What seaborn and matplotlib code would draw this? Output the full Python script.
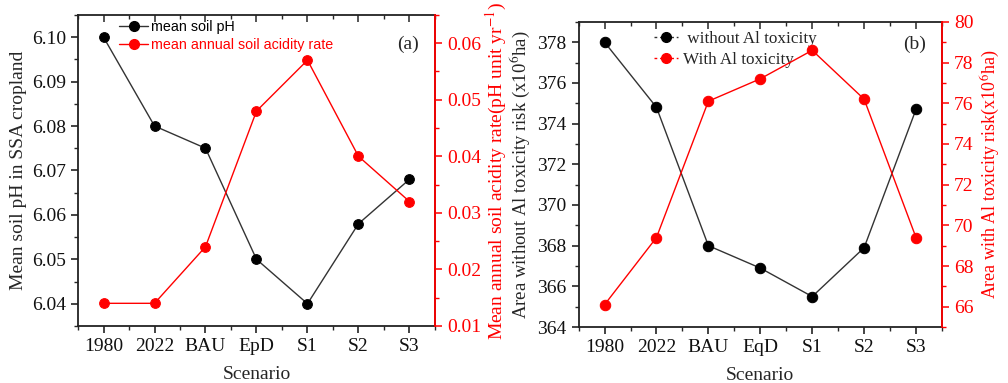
import numpy as np
import pandas as pd
import matplotlib
matplotlib.use("Agg")
import matplotlib.pyplot as plt
import seaborn as sns
from matplotlib.ticker import MultipleLocator, AutoMinorLocator
from matplotlib.lines import Line2D

sns.set_theme(style="white")
plt.rcParams['font.family'] = ['Liberation Serif', 'DejaVu Serif']
plt.rcParams['mathtext.fontset'] = 'stix'

scen_a = ["1980", "2022", "BAU", "EpD", "S1", "S2", "S3"]
soil_ph = [6.100, 6.080, 6.075, 6.050, 6.040, 6.058, 6.068]
acid_rate = [0.014, 0.014, 0.024, 0.048, 0.057, 0.040, 0.032]

scen_b = ["1980", "2022", "BAU", "EqD", "S1", "S2", "S3"]
area_without = [378.0, 374.8, 368.0, 366.9, 365.5, 367.9, 374.7]
area_with = [66.1, 69.4, 76.1, 77.2, 78.6, 76.2, 69.4]

RED = "#ff0000"
FS = 14

fig = plt.figure(figsize=(10.08, 3.83), dpi=100)
axa = fig.add_axes([0.0774, 0.149, 0.3541, 0.812])
axb = fig.add_axes([0.574, 0.146, 0.3605, 0.797])


def style_axes(ax, ax2):
    for s in ax.spines.values():
        s.set_color("#222222")
        s.set_linewidth(1.3)
    ax2.spines['right'].set_color(RED)
    ax2.spines['right'].set_linewidth(1.3)
    for s in ['left', 'top', 'bottom']:
        ax2.spines[s].set_visible(False)
    ax.tick_params(axis='both', which='major', direction='out', length=5, width=1.1,
                   labelsize=FS, colors='#111111', bottom=True, left=True, top=False)
    ax.tick_params(axis='y', which='minor', direction='out', length=3, width=1.0, left=True)
    ax.tick_params(axis='x', which='minor', direction='out', length=3, width=1.0, bottom=True)
    ax2.tick_params(axis='y', which='major', direction='out', length=5, width=1.1,
                    labelsize=FS, colors=RED, right=True)
    ax2.tick_params(axis='y', which='minor', direction='out', length=3, width=1.0,
                    colors=RED, right=True)
    ax.xaxis.set_minor_locator(MultipleLocator(0.5))
    ax.yaxis.set_minor_locator(AutoMinorLocator(2))
    ax2.yaxis.set_minor_locator(AutoMinorLocator(2))
    sec = ax.secondary_xaxis('top')
    sec.set_xticks(range(7))
    sec.xaxis.set_minor_locator(MultipleLocator(0.5))
    sec.tick_params(axis='x', which='major', direction='in', length=5, width=1.1, labeltop=False)
    sec.tick_params(axis='x', which='minor', direction='in', length=3, width=1.0)
    sec.spines['top'].set_visible(False)


# ---------------- Panel (a) ----------------
dfa = pd.DataFrame({"x": np.arange(len(scen_a)), "ph": soil_ph, "rate": acid_rate})
axa2 = axa.twinx()
sns.lineplot(data=dfa, x="x", y="ph", ax=axa, color="#333333", lw=1.0,
             marker="o", markersize=7, markerfacecolor="black", markeredgecolor="black",
             legend=False)
sns.lineplot(data=dfa, x="x", y="rate", ax=axa2, color=RED, lw=1.0,
             marker="o", markersize=7, markerfacecolor=RED, markeredgecolor=RED,
             legend=False)
axa.set_xlim(-0.5, 6.5)
axa.set_xticks(range(len(scen_a)))
axa.set_xticklabels(scen_a)
axa.set_ylim(6.035, 6.105)
yt_a = [6.04, 6.05, 6.06, 6.07, 6.08, 6.09, 6.10]
axa.set_yticks(yt_a)
axa.set_yticklabels([f"{v:.2f}" for v in yt_a])
axa2.set_ylim(0.01, 0.065)
yt_a2 = [0.01, 0.02, 0.03, 0.04, 0.05, 0.06]
axa2.set_yticks(yt_a2)
axa2.set_yticklabels([f"{v:.2f}" for v in yt_a2])
axa.set_xlabel("Scenario", fontsize=FS, labelpad=8)
axa.set_ylabel("Mean soil pH in SSA cropland", fontsize=FS, labelpad=4)
axa2.set_ylabel(r"Mean annual soil acidity rate(pH unit yr$^{-1}$)", fontsize=FS,
                color=RED, labelpad=2)
style_axes(axa, axa2)
axa.text(0.955, 0.905, "(a)", transform=axa.transAxes, ha="right", va="center", fontsize=FS)

ha1 = Line2D([], [], color="#333333", lw=1.0, marker="o", markersize=7,
             markerfacecolor="black", markeredgecolor="black")
ha2 = Line2D([], [], color=RED, lw=1.0, marker="o", markersize=7,
             markerfacecolor=RED, markeredgecolor=RED)
lega = axa.legend([ha1, ha2], ["mean soil pH", "mean annual soil acidity rate"],
                  loc="upper left", bbox_to_anchor=(0.08, 1.025), frameon=False,
                  handlelength=2.0, handletextpad=0.2, labelspacing=0.3,
                  prop={"family": "Liberation Sans", "size": 10.3})
lega.get_texts()[0].set_color("black")
lega.get_texts()[1].set_color(RED)

# ---------------- Panel (b) ----------------
dfb = pd.DataFrame({"x": np.arange(len(scen_b)), "wo": area_without, "w": area_with})
axb2 = axb.twinx()
sns.lineplot(data=dfb, x="x", y="wo", ax=axb, color="#333333", lw=1.0,
             marker="o", markersize=7.5, markerfacecolor="black", markeredgecolor="black",
             legend=False)
sns.lineplot(data=dfb, x="x", y="w", ax=axb2, color=RED, lw=1.0,
             marker="o", markersize=7.5, markerfacecolor=RED, markeredgecolor=RED,
             legend=False)
axb.set_xlim(-0.5, 6.5)
axb.set_xticks(range(len(scen_b)))
axb.set_xticklabels(scen_b)
axb.set_ylim(364, 379)
axb.set_yticks(np.arange(364, 379, 2))
axb2.set_ylim(65, 80)
axb2.set_yticks(np.arange(66, 81, 2))
axb.set_xlabel("Scenario", fontsize=FS, labelpad=8)
axb.set_ylabel(r"Area without Al toxicity risk (x10$^6$ha)", fontsize=FS - 0.5, labelpad=4)
axb2.set_ylabel(r"Area with Al toxicity risk(x10$^6$ha)", fontsize=FS - 1, color=RED, labelpad=4)
style_axes(axb, axb2)
axb.text(0.955, 0.925, "(b)", transform=axb.transAxes, ha="right", va="center", fontsize=FS)

hb1 = Line2D([], [], color="#333333", lw=1.0, ls=(0, (2, 2)), marker="o", markersize=7,
             markerfacecolor="black", markeredgecolor="black")
hb2 = Line2D([], [], color=RED, lw=1.0, ls=(0, (2, 2)), marker="o", markersize=7,
             markerfacecolor=RED, markeredgecolor=RED)
legb = axb.legend([hb1, hb2], [" without Al toxicity", "With Al toxicity"],
                  loc="upper left", bbox_to_anchor=(0.165, 1.02), frameon=False,
                  handlelength=1.4, handletextpad=0.3, labelspacing=0.3,
                  prop={"family": "Liberation Serif", "size": 12.3})

fig.savefig("out.png", dpi=100)
